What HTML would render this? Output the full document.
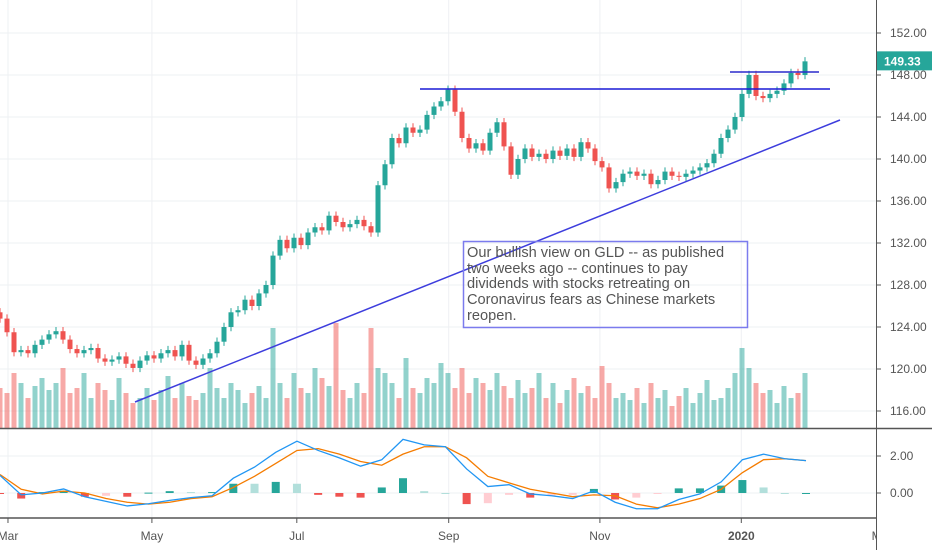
<!DOCTYPE html>
<html><head><meta charset="utf-8">
<style>
html,body{margin:0;padding:0;background:#fff;width:932px;height:550px;overflow:hidden;font-family:"Liberation Sans",sans-serif;}
svg{display:block}
</style></head>
<body>
<svg id="chart" width="932" height="550" xmlns="http://www.w3.org/2000/svg">
<defs><clipPath id="plotclip"><rect x="0" y="0" width="876" height="428"/></clipPath>
<clipPath id="timeclip"><rect x="0" y="518" width="876" height="32"/></clipPath></defs>
<g id="grid"></g>
<g id="volume" clip-path="url(#plotclip)"></g>
<g id="candles" clip-path="url(#plotclip)"></g>
<g id="drawings">
  <line x1="420" y1="89" x2="830" y2="89" stroke="#1a1ad6" stroke-width="1.5"/>
  <line x1="730" y1="72" x2="819" y2="72" stroke="#2a2acc" stroke-width="1.5"/>
  <line x1="135" y1="402" x2="840" y2="120" stroke="#3d3ddd" stroke-width="1.5"/>
  <rect x="463.5" y="241.5" width="284" height="86" fill="none" stroke="#7b7bee" stroke-width="1.5"/>
  <text font-size="14.6" fill="#555" font-family="Liberation Sans, sans-serif">
    <tspan x="467" y="257">Our bullish view on GLD -- as published</tspan>
    <tspan x="467" y="273">two weeks ago -- continues to pay</tspan>
    <tspan x="467" y="288">dividends with stocks retreating on</tspan>
    <tspan x="467" y="304">Coronavirus fears as Chinese markets</tspan>
    <tspan x="467" y="320">reopen.</tspan>
  </text>
</g>
<g id="macd"></g>
<g id="axes"></g>
</svg>
<script>
const closes = [124.8,123.5,121.6,121.8,121.5,122.3,122.8,123.3,123.6,122.8,121.9,121.5,121.8,122.0,121.0,120.7,120.9,121.2,120.5,120.1,120.8,121.3,121.0,121.5,121.8,121.2,122.3,120.8,120.4,121.0,121.5,122.6,124.0,125.4,125.6,126.6,126.0,127.2,128.0,130.8,132.3,131.5,132.5,131.8,133.0,133.5,133.2,134.6,134.0,133.5,133.8,134.2,133.6,133.0,137.5,139.5,142.0,141.5,143.0,142.5,142.8,144.2,145.0,145.5,146.6,144.5,142.0,141.0,141.5,140.8,142.5,143.5,141.2,138.5,140.0,141.0,140.2,140.5,140.0,140.8,140.3,141.0,140.2,141.6,141.0,139.8,139.2,137.2,137.8,138.6,138.8,138.4,138.6,137.6,138.0,138.8,138.4,138.3,138.6,138.9,139.2,139.6,140.5,142.0,142.8,144.0,146.2,148.0,146.0,145.8,146.2,146.5,147.2,148.2,148.0,149.3];
const volumes = [40,35,55,45,30,42,50,38,45,60,35,40,55,30,45,38,28,50,35,25,30,40,28,38,52,30,45,32,28,35,60,40,30,45,38,25,35,42,30,100,45,30,55,40,35,60,50,42,105,38,30,45,35,100,60,55,45,30,70,40,35,50,45,65,55,40,60,35,50,45,38,55,42,30,48,35,40,55,30,45,25,38,50,35,42,30,62,45,30,35,28,40,25,45,30,38,22,32,40,25,35,48,28,30,40,55,80,60,45,35,38,25,42,30,35,55];
const macdVals = [0.95,-0.1,0.0,0.22,-0.2,-0.45,-0.7,-0.58,-0.4,-0.25,-0.15,0.8,1.4,2.2,2.8,2.3,1.9,1.45,1.8,2.9,2.6,2.5,1.3,0.35,0.45,-0.05,-0.15,-0.3,0.12,-0.5,-0.85,-0.85,-0.35,-0.05,0.6,1.8,2.1,1.85,1.75];
const signalVals = [1.0,0.2,-0.05,0.1,0.0,-0.3,-0.5,-0.6,-0.5,-0.3,-0.2,0.3,0.9,1.6,2.3,2.4,2.1,1.7,1.5,2.1,2.5,2.5,1.9,0.9,0.55,0.2,0.0,-0.2,-0.1,-0.15,-0.6,-0.8,-0.6,-0.3,0.2,1.1,1.8,1.85,1.75];
const priceTicks = [152,148,144,140,136,132,128,124,120,116];
const priceTickLabels = ["152.00","148.00","144.00","140.00","136.00","132.00","128.00","124.00","120.00","116.00"];
const macdTicks = [2,0];
const macdTickLabels = ["2.00","0.00"];
const timeLabels = ["Mar","May","Jul","Sep","Nov","2020","Ma"];
const timeTickIdx = [1.14,21.7,42.4,64.1,85.7,105.9,125.7];
const lastPriceLabel = "149.33";

const NS="http://www.w3.org/2000/svg";
function mk(tag,attrs,parent){const e=document.createElementNS(NS,tag);for(const k in attrs)e.setAttribute(k,attrs[k]);parent.appendChild(e);return e;}
const yP = p => 33 + (152 - p) * 10.5;
const xC = i => i * 7;
const yM = v => 493 - v * 18.5;
const xM = i => i * 806 / (macdVals.length - 1);
const yV = v => 428 - v;

const grid=document.getElementById('grid');
priceTicks.forEach(t=>{const g=mk('line',{x1:0,x2:876,y1:yP(t),y2:yP(t),stroke:'#eef0f3','stroke-width':1},grid);

});
macdTicks.forEach(t=>{const g=mk('line',{x1:0,x2:876,y1:yM(t),y2:yM(t),stroke:'#eef0f3','stroke-width':1},grid);

});
timeTickIdx.slice(0,6).forEach(t=>{const g=mk('line',{x1:xC(t),x2:xC(t),y1:0,y2:518,stroke:'#eef0f3','stroke-width':1},grid);

});

const vol=document.getElementById('volume'), cg=document.getElementById('candles');
closes.forEach((c,i)=>{
  const o = i===0 ? c+0.6 : closes[i-1];
  const up = c>=o;
  const col = up ? '#26a69a' : '#ef5350';
  const x = xC(i);
  const hi=Math.max(o,c)+0.4, lo=Math.min(o,c)-0.4;
  const w=mk('line',{x1:x,x2:x,y1:yP(hi),y2:yP(lo),stroke:col,'stroke-width':1},cg);
  
  
  const top=yP(Math.max(o,c)), h=Math.max(1,yP(Math.min(o,c))-top);
  const b=mk('rect',{x:x-2.5,y:top,width:5,height:h,fill:col},cg);
  
  
  const v=mk('rect',{x:x-2.5,y:yV(volumes[i]),width:5,height:volumes[i],fill:up?'rgba(38,166,154,0.5)':'rgba(239,83,80,0.5)'},vol);
  
  
});

const mg=document.getElementById('macd');
macdVals.forEach((m,i)=>{
  const h=m-signalVals[i];
  const prev = i>0 ? macdVals[i-1]-signalVals[i-1] : h;
  let col;
  if(h>=0) col = h>=prev ? '#26a69a' : '#b2dfdb'; else col = h<=prev ? '#ef5350' : '#ffcdd2';
  const y1=Math.min(yM(0),yM(h)), hh=Math.max(1,Math.abs(yM(h)-yM(0)));
  const r=mk('rect',{x:xM(i)-4,y:y1,width:8,height:hh,fill:col},mg);
  
  
});
const sp=mk('polyline',{points:signalVals.map((v,i)=>xM(i)+','+yM(v)).join(' '),fill:'none',stroke:'#f57c00','stroke-width':1.3},mg);


const mp=mk('polyline',{points:macdVals.map((v,i)=>xM(i)+','+yM(v)).join(' '),fill:'none',stroke:'#2196f3','stroke-width':1.3},mg);



const ax=document.getElementById('axes');
const a1=mk('line',{x1:876.5,x2:876.5,y1:0,y2:550,stroke:'#555','stroke-width':1},ax);


const a2=mk('line',{x1:0,x2:932,y1:428.5,y2:428.5,stroke:'#555','stroke-width':1.5},ax);


const a3=mk('line',{x1:0,x2:876,y1:518,y2:518,stroke:'#555','stroke-width':1.5},ax);


priceTicks.forEach((t,i)=>{
  const tk=mk('line',{x1:877,x2:881,y1:yP(t),y2:yP(t),stroke:'#555'},ax);
  
  
  const tx=mk('text',{x:890,y:yP(t)+4,'font-size':12,fill:'#555'},ax);
  tx.textContent=priceTickLabels[i];
  
  
});
macdTicks.forEach((t,i)=>{
  const tk=mk('line',{x1:877,x2:881,y1:yM(t),y2:yM(t),stroke:'#555'},ax);
  
  
  const tx=mk('text',{x:890,y:yM(t)+4,'font-size':12,fill:'#555'},ax);
  tx.textContent=macdTickLabels[i];
  
  
});
const tg=mk('g',{'clip-path':'url(#timeclip)'},ax);
timeLabels.forEach((l,i)=>{
  const x=xC(timeTickIdx[i]);
  const tk=mk('line',{x1:x,x2:x,y1:518,y2:523,stroke:'#555'},tg);
  
  
  const tx=mk('text',{x:x,y:540,'font-size':12,fill:'#555','text-anchor':'middle','font-weight':l==='2020'?'bold':'normal'},tg);
  tx.textContent=l;
  
  
});
const lp=closes[closes.length-1];
const lb=mk('rect',{x:877,y:yP(lp)-10,width:55,height:19,fill:'#26a69a'},ax);


const lt=mk('text',{x:884,y:yP(lp)+4,'font-size':12,'font-weight':'bold',fill:'#fff'},ax);
lt.textContent=lastPriceLabel;


</script>
</body></html>
